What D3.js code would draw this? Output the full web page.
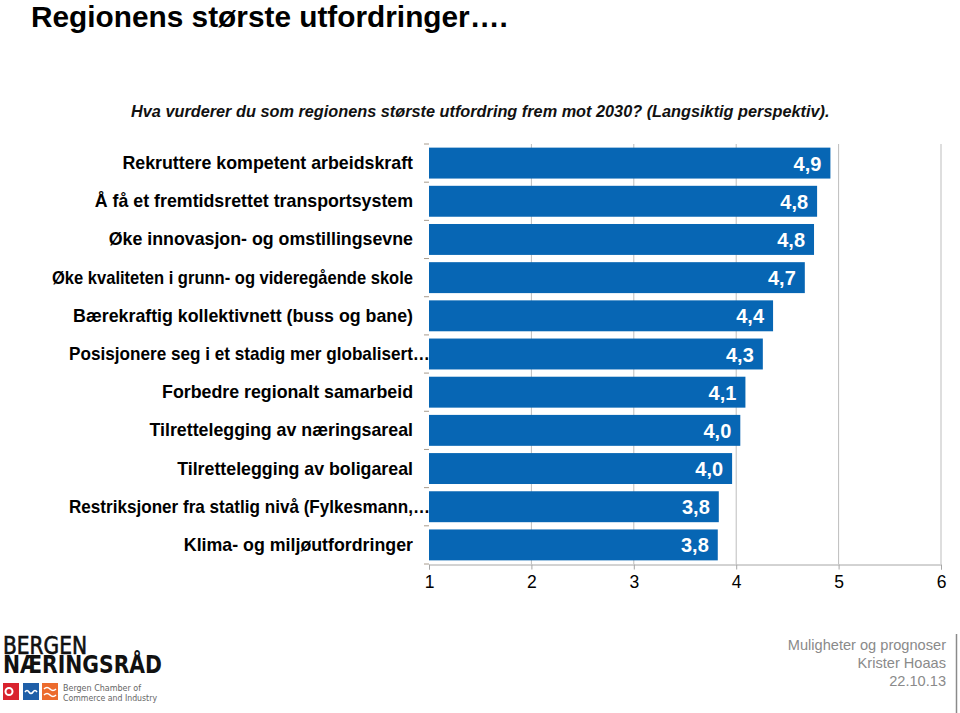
<!DOCTYPE html>
<html>
<head>
<meta charset="utf-8">
<script src="https://cdn.jsdelivr.net/npm/d3@7"></script>
<style>
  html, body { margin: 0; padding: 0; background: #fff; }
  svg { display: block; font-family: "Liberation Sans", Arial, sans-serif; }
</style>
</head>
<body>
<svg id="chart" width="960" height="713"></svg>
<script>
// ---- data ----
const categories = [
  "Rekruttere kompetent arbeidskraft",
  "Å få et fremtidsrettet transportsystem",
  "Øke innovasjon- og omstillingsevne",
  "Øke kvaliteten i grunn- og videregående skole",
  "Bærekraftig kollektivnett (buss og bane)",
  "Posisjonere seg i et stadig mer globalisert…",
  "Forbedre regionalt samarbeid",
  "Tilrettelegging av næringsareal",
  "Tilrettelegging av boligareal",
  "Restriksjoner fra statlig nivå (Fylkesmann,…",
  "Klima- og miljøutfordringer"
];
const values = [4.92, 4.79, 4.76, 4.67, 4.36, 4.26, 4.09, 4.04, 3.96, 3.83, 3.82];
const tickValues = [1, 2, 3, 4, 5, 6];
const title = "Regionens største utfordringer….";
const subtitle = "Hva vurderer du som regionens største utfordring frem mot 2030? (Langsiktig perspektiv).";
const footerLines = ["Muligheter og prognoser", "Krister Hoaas", "22.10.13"];

// ---- chart ----
const svg = d3.select("#chart");
const barColor = "#0766b4";

const x = d3.scaleLinear().domain([1, 6]).range([429, 941]);
const y = d3.scaleBand().domain(categories).range([144, 564])
  .paddingInner(0.19).paddingOuter(0.095);

// title
svg.append("text").attr("x", 31).attr("y", 27)
  .attr("font-size", 29.8).attr("font-weight", "bold").attr("fill", "#000")
  .text(title);

svg.append("text").attr("x", 131).attr("y", 117)
  .attr("font-size", 16.3).attr("font-weight", "bold").attr("font-style", "italic")
  .attr("fill", "#111")
  .text(subtitle);

// gridlines
svg.append("g").selectAll("line").data(tickValues.slice(1)).join("line")
  .attr("x1", d => x(d)).attr("x2", d => x(d))
  .attr("y1", 144).attr("y2", 564)
  .attr("stroke", "#bdbdbd").attr("stroke-width", 1);

// category labels
const labels = svg.append("g").selectAll("text").data(categories).join("text")
  .attr("x", d => d.endsWith("…") ? 430 : 413)
  .attr("y", d => y(d) + y.bandwidth() / 2 + 6)
  .attr("text-anchor", "end")
  .attr("font-size", 17.8).attr("font-weight", "bold").attr("fill", "#000")
  .text(d => d);
labels.each(function () {
  const w = this.getComputedTextLength();
  if (w > 361) d3.select(this).attr("textLength", 361).attr("lengthAdjust", "spacingAndGlyphs");
});

// y ticks at band boundaries
const bounds = categories.map(c => y(c) - y.step() * y.paddingInner() / 2);
bounds.push(564);
svg.append("g").selectAll("line").data(bounds).join("line")
  .attr("x1", 424).attr("x2", 429)
  .attr("y1", d => d).attr("y2", d => d)
  .attr("stroke", "#a89c8e").attr("stroke-width", 1);

// bars
svg.append("g").selectAll("rect").data(values).join("rect")
  .attr("x", x(1))
  .attr("y", (d, i) => y(categories[i]))
  .attr("width", d => x(d) - x(1))
  .attr("height", y.bandwidth())
  .attr("fill", barColor);

// value labels
const fmt = d3.format(".1f");
svg.append("g").selectAll("text").data(values).join("text")
  .attr("x", d => x(d) - 9)
  .attr("y", (d, i) => y(categories[i]) + y.bandwidth() / 2 + 7.5)
  .attr("text-anchor", "end")
  .attr("font-size", 20).attr("font-weight", "bold").attr("fill", "#fff")
  .text(d => fmt(d).replace(".", ","));

// x axis
const xAxis = d3.axisBottom(x).tickValues(tickValues).tickSize(5).tickPadding(6)
  .tickFormat(d => String(d));
const gx = svg.append("g").attr("transform", "translate(0,564.5)").call(xAxis)
  .attr("font-size", null).attr("font-family", null);
gx.select(".domain").attr("stroke", "#a6a6a6");
gx.selectAll(".tick line").attr("stroke", "#a6a6a6");
gx.selectAll(".tick text")
  .style("font-size", "17.5px").style("font-family", "Liberation Sans, Arial, sans-serif")
  .attr("fill", "#000");

// footer right
svg.append("g").selectAll("text").data(footerLines).join("text")
  .attr("x", 946).attr("y", (d, i) => 650 + i * 18)
  .attr("text-anchor", "end").attr("font-size", 14.6).attr("fill", "#8a8a8a")
  .text(d => d);
svg.append("line").attr("x1", 956.5).attr("x2", 956.5).attr("y1", 634).attr("y2", 713)
  .attr("stroke", "#8a8a8a").attr("stroke-width", 1.5);

// logo
const logo = svg.append("g");
logo.append("text").attr("x", 3).attr("y", 654)
  .attr("font-family", "DejaVu Sans Condensed, DejaVu Sans, sans-serif")
  .attr("font-size", 24).attr("fill", "#111")
  .attr("stroke", "#111").attr("stroke-width", 0.6)
  .attr("textLength", 84).attr("lengthAdjust", "spacingAndGlyphs")
  .text("BERGEN");
logo.append("text").attr("x", 3).attr("y", 673)
  .attr("font-family", "DejaVu Sans Condensed, DejaVu Sans, sans-serif")
  .attr("font-size", 24).attr("font-weight", "bold").attr("fill", "#111")
  .attr("textLength", 159).attr("lengthAdjust", "spacingAndGlyphs")
  .text("NÆRINGSRÅD");
logo.append("rect").attr("x", 3).attr("y", 683).attr("width", 16).attr("height", 17).attr("fill", "#d9232e");
logo.append("circle").attr("cx", 9).attr("cy", 691.5).attr("r", 3.5).attr("fill", "none").attr("stroke", "#fff").attr("stroke-width", 2);
logo.append("rect").attr("x", 23).attr("y", 683).attr("width", 16).attr("height", 17).attr("fill", "#1f5fa8");
logo.append("path").attr("d", "M25,692 q2,-3 4,0 q2,3 4,0 q2,-3 4,0").attr("fill", "none").attr("stroke", "#fff").attr("stroke-width", 1.6);
logo.append("rect").attr("x", 42).attr("y", 683).attr("width", 16).attr("height", 17).attr("fill", "#ec6b2d");
logo.append("path").attr("d", "M44,689 q3,-3 6,0 q3,3 6,0 M44,695 q3,-3 6,0 q3,3 6,0").attr("fill", "none").attr("stroke", "#fff").attr("stroke-width", 1.6);
logo.append("text").attr("x", 63).attr("y", 690.5)
  .attr("font-family", "DejaVu Sans Condensed, DejaVu Sans, sans-serif")
  .attr("font-size", 9.5).attr("fill", "#666")
  .attr("textLength", 78).attr("lengthAdjust", "spacingAndGlyphs")
  .text("Bergen Chamber of");
logo.append("text").attr("x", 63).attr("y", 700.5)
  .attr("font-family", "DejaVu Sans Condensed, DejaVu Sans, sans-serif")
  .attr("font-size", 9.5).attr("fill", "#666")
  .attr("textLength", 94).attr("lengthAdjust", "spacingAndGlyphs")
  .text("Commerce and Industry");
</script>
</body>
</html>
